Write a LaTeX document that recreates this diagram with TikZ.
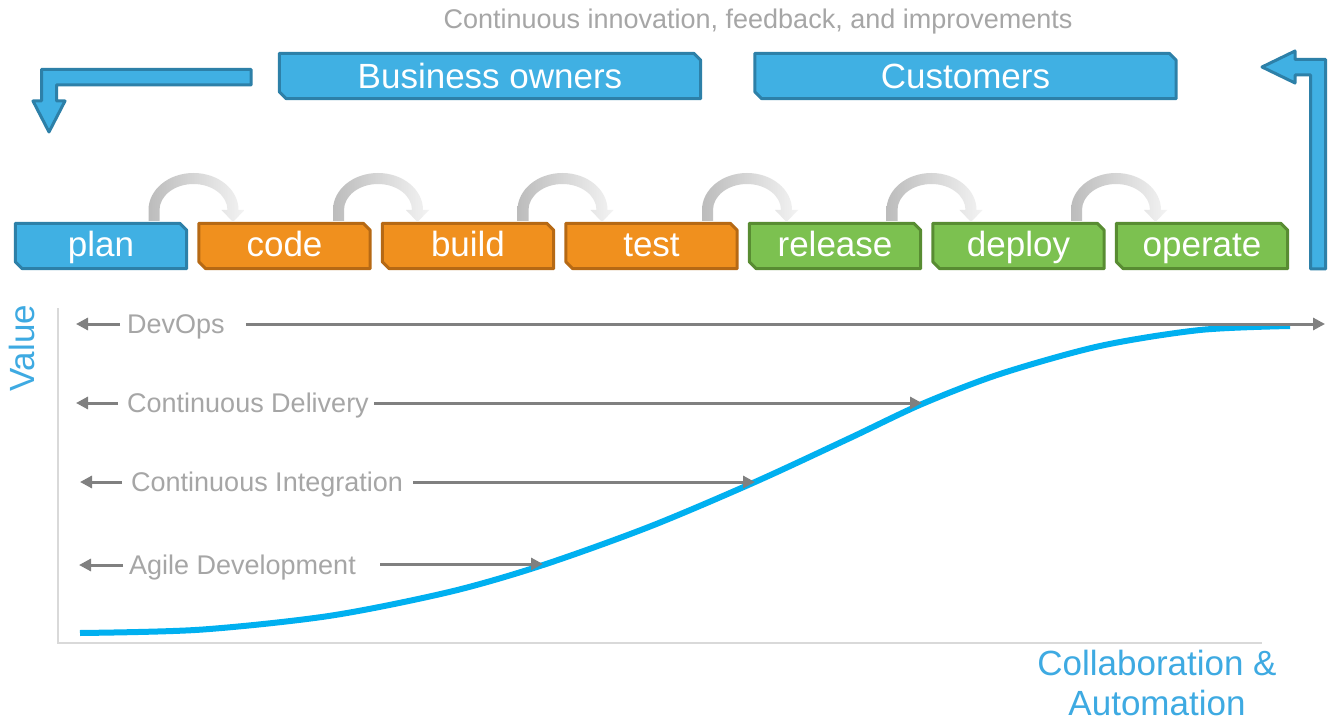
\documentclass[tikz,border=0pt]{standalone}
\usepackage{fontspec}
\setmainfont{Liberation Sans}
\usetikzlibrary{arrows.meta,calc,backgrounds}
\definecolor{bfill}{RGB}{64,176,227}
\definecolor{bdraw}{RGB}{45,128,168}
\definecolor{ofill}{RGB}{240,144,30}
\definecolor{odraw}{RGB}{182,105,20}
\definecolor{gfill}{RGB}{124,193,80}
\definecolor{gdraw}{RGB}{88,140,50}
\definecolor{lblgray}{RGB}{166,166,166}
\definecolor{arrgray}{RGB}{128,128,128}
\definecolor{axisgray}{RGB}{217,217,217}
\definecolor{vblue}{RGB}{62,170,226}
\definecolor{curveblue}{RGB}{0,176,240}
\definecolor{arcL}{RGB}{188,188,188}
\definecolor{arcR}{RGB}{243,243,243}

\newcommand\snipbox[3]{\filldraw[fill=#2,draw=#3,line width=3pt,line join=round]
  (#1.north west) -- ([xshift=-7pt]#1.north east) -- ([yshift=-7pt]#1.north east)
  -- (#1.south east) -- ([xshift=7pt]#1.south west) -- ([yshift=7pt]#1.south west) -- cycle;}

\newcommand\cyclearrow[1]{\shade[left color=arcL,right color=arcR]
  ({#1-45},221) -- ({#1-45},210) arc[start angle=180,end angle=360,x radius=45,y radius=37]
  -- ({#1+51},210) -- ({#1+39.5},222) -- ({#1+28},210) -- ({#1+34},210)
  arc[start angle=360,end angle=180,x radius=34,y radius=26] -- ({#1-34},221) -- cycle;}

\begin{document}
\begin{tikzpicture}[x=1pt,y=-1pt,
  pbox/.style={minimum width=171pt,minimum height=45pt,inner sep=0pt,text height=22pt,text depth=0pt,text=white,font=\fontsize{35}{40}\selectfont},
  tbox/.style={minimum width=421pt,minimum height=45pt,inner sep=0pt,text height=26pt,text depth=0pt,text=white,font=\fontsize{35}{40}\selectfont},
  lbl/.style={anchor=base west,inner sep=0pt,text=lblgray,font=\fontsize{27}{32}\selectfont},
  garr/.style={draw=arrgray,line width=3pt,-{Triangle[length=12pt,width=12pt]}},
  bigarrow/.style={fill=bfill,draw=bdraw,line width=3pt,line join=round},
  bluetext/.style={text=vblue,inner sep=0pt,font=\fontsize{35}{40}\selectfont}
]
\useasboundingbox (0,0) rectangle (1335,727);

% top caption
\node[anchor=base,inner sep=0pt,text=lblgray,font=\fontsize{27}{32}\selectfont] (caption) at (758,29) {Continuous innovation, feedback, and improvements};

% stakeholder boxes
\node[tbox] (owners) at (490,76) {Business owners};
\node[tbox] (customers) at (965.5,76) {Customers};

% process boxes
\node[pbox] (plan) at (101,246) {plan};
\node[pbox] (code) at (284.5,246) {code};
\node[pbox] (build) at (468,246) {build};
\node[pbox] (test) at (651.5,246) {test};
\node[pbox] (release) at (835,246) {release};
\node[pbox] (deploy) at (1018.5,246) {deploy};
\node[pbox] (operate) at (1202,246) {operate};

\begin{scope}[on background layer]
  \fill[white] (0,0) rectangle (1335,727);
  \snipbox{owners}{bfill}{bdraw}
  \snipbox{customers}{bfill}{bdraw}
  \snipbox{plan}{bfill}{bdraw}
  \snipbox{code}{ofill}{odraw}
  \snipbox{build}{ofill}{odraw}
  \snipbox{test}{ofill}{odraw}
  \snipbox{release}{gfill}{gdraw}
  \snipbox{deploy}{gfill}{gdraw}
  \snipbox{operate}{gfill}{gdraw}
\end{scope}

% cycle arrows between steps
\cyclearrow{193.5}
\cyclearrow{378}
\cyclearrow{562.5}
\cyclearrow{747}
\cyclearrow{931.5}
\cyclearrow{1116}

% bent feedback arrows
\path[bigarrow] (251,69.5) -- (41.5,69.5) -- (41.5,101) -- (33,101) -- (49,132) -- (65,101)
  -- (56.5,101) -- (56.5,85) -- (251,85) -- cycle;
\path[bigarrow] (1310.5,269) -- (1310.5,75) -- (1295,75) -- (1295,83) -- (1262,67)
  -- (1295,51) -- (1295,59.5) -- (1325.5,59.5) -- (1325.5,269) -- cycle;

% axes
\coordinate (origin) at (58,643);
\coordinate (ytop) at (58,308);
\coordinate (xend) at (1262,643);
\draw[axisgray,line width=2pt] (ytop) -- (origin) -- (xend);

\node[bluetext,rotate=90,anchor=base west] (value) at (34,392) {Value};
\node[bluetext,anchor=base] (collab) at (1157,675) {Collaboration \&};
\node[bluetext,anchor=base] (autom) at (1157,715) {Automation};

% value curve
\draw[curveblue,line width=6pt] plot[smooth,tension=0.5] coordinates
  {(80,633) (200,629.7) (330,615.8) (450,591.8) (543,565) (650,526.5) (755,482) (850,438) (922,404) (1000,374) (1100,346) (1200,330) (1290,326)};

% level labels and arrows
\node[lbl] (devops) at (127,333) {DevOps};
\coordinate (devL) at (76,324);
\coordinate (devR) at (1325,324);
\draw[garr] ($(devops.west |- devL)+(-7,0)$) -- (devL);
\draw[garr] ($(devops.east |- devR)+(21,0)$) -- (devR);

\node[lbl] (cd) at (127,412) {Continuous Delivery};
\coordinate (cdL) at (76,403);
\coordinate (cdR) at (922,403);
\draw[garr] ($(cd.west |- cdL)+(-9,0)$) -- (cdL);
\draw[garr] ($(cd.east |- cdR)+(5,0)$) -- (cdR);

\node[lbl] (ci) at (131,491) {Continuous Integration};
\coordinate (ciL) at (80,482);
\coordinate (ciR) at (755,482);
\draw[garr] ($(ci.west |- ciL)+(-9,0)$) -- (ciL);
\draw[garr] ($(ci.east |- ciR)+(10,0)$) -- (ciR);

\node[lbl] (agile) at (129,574) {Agile Development};
\coordinate (agL) at (79,565);
\coordinate (agR) at (543,564);
\draw[garr] ($(agile.west |- agL)+(-6,0)$) -- (agL);
\draw[garr] ($(agile.east |- agR)+(24,0)$) -- (agR);
\end{tikzpicture}
\end{document}
